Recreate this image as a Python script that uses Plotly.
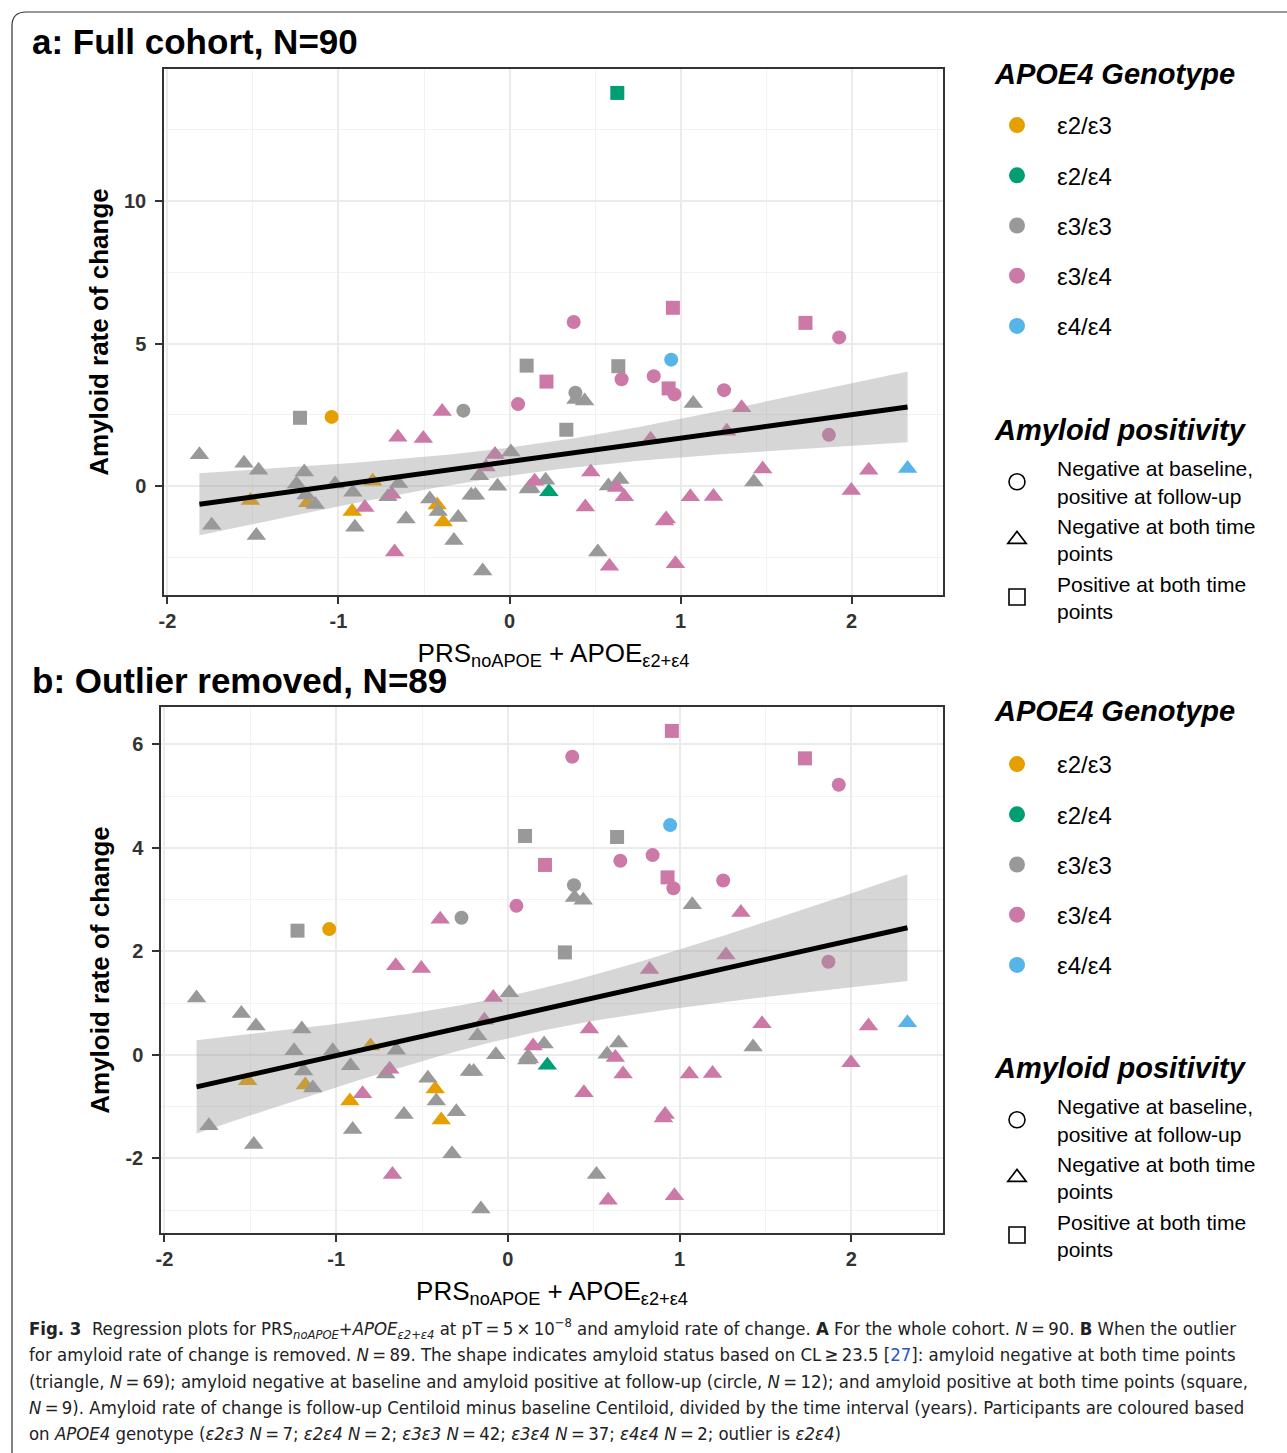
import numpy as np
import plotly.graph_objects as go

W, H = 1287, 1453

# ---------------- data ----------------
# PRS_noAPOE + APOE_e2+e4 score, amyloid rate of change, genotype, amyloid status
# status codes: "conv" = negative at baseline, positive at follow-up (circle)
#               "neg"  = negative at both time points (triangle)
#               "pos"  = positive at both time points (square)
prs = [
    # circles
    -1.04, -0.27, 0.05, 0.385, 0.375, 0.945, 0.655, 0.843, 0.964, 1.254, 1.927, 1.867,
    # squares
    -1.225, 0.10, 0.636, 0.332, 0.216, 0.93, 0.955, 1.73,
    # triangles, e3/e3
    -1.813, -1.552, -1.467, -1.20, -1.245, -1.02, -0.649, -1.19, -0.916, -1.136,
    -0.711, -0.605, -1.741, -0.904, -1.48, 0.388, 0.439, 0.008, -0.176, -0.07,
    -0.224, -0.199, -0.466, -0.417, -0.30, -0.325, -0.157, 0.211, 0.118, 0.11,
    0.125, 0.578, 0.645, 0.516, 1.074, 1.428,
    # triangles, e3/e4
    -0.653, -0.504, -0.394, 0.825, -0.085, -0.137, 0.475, -0.688, -0.846, -0.672,
    0.147, 0.626, 0.671, 0.443, 0.584, 1.357, 1.27, 1.48, 2.10, 1.998,
    1.057, 1.192, 0.916, 0.906, 0.97,
    # triangles, e2/e3
    -0.80, -1.515, -1.18, -0.92, -0.423, -0.388,
    # triangles, e2/e4 and e4/e4
    0.23, 2.327,
]
rate = [
    2.43, 2.65, 2.88, 3.28, 5.76, 4.44, 3.75, 3.86, 3.22, 3.37, 5.22, 1.80,
    2.40, 4.23, 4.21, 1.98, 3.67, 3.43, 6.26, 5.73,
    1.10, 0.80, 0.56, 0.50, 0.08, 0.08, 0.09, -0.31, -0.21, -0.64,
    -0.37, -1.15, -1.37, -1.44, -1.73, 3.04, 2.99, 1.20, 0.37, 0.0,
    -0.32, -0.32, -0.45, -0.89, -1.10, -1.91, -2.98, 0.21, -0.03, -0.10,
    -0.08, 0.01, 0.23, -2.31, 2.90, 0.15,
    1.72, 1.67, 2.62, 1.65, 1.11, 0.67, 0.50, -0.28, -0.75, -2.31,
    0.17, -0.05, -0.37, -0.73, -2.81, 2.75, 1.93, 0.60, 0.56, -0.15,
    -0.37, -0.36, -1.15, -1.22, -2.72,
    0.17, -0.50, -0.58, -0.89, -0.66, -1.26,
    -0.20, 0.62,
]
genotype = (
    ["e2/e3", "e3/e3", "e3/e4", "e3/e3", "e3/e4", "e4/e4", "e3/e4", "e3/e4", "e3/e4",
     "e3/e4", "e3/e4", "e3/e4"]
    + ["e3/e3"] * 4 + ["e3/e4"] * 4
    + ["e3/e3"] * 36 + ["e3/e4"] * 25 + ["e2/e3"] * 6
    + ["e2/e4", "e4/e4"]
)
status = ["conv"] * 12 + ["pos"] * 8 + ["neg"] * 69

# the single outlier (only in the full cohort panel)
outlier_prs = [0.63]
outlier_rate = [13.8]
outlier_genotype = ["e2/e4"]
outlier_status = ["pos"]

geno_levels = ["e2/e3", "e2/e4", "e3/e3", "e3/e4", "e4/e4"]
geno_labels = ["ε2/ε3", "ε2/ε4", "ε3/ε3", "ε3/ε4", "ε4/ε4"]
geno_colors = ["#E69F00", "#009E73", "#999999", "#CC79A7", "#56B4E9"]
status_levels = ["conv", "neg", "pos"]
status_labels = ["Negative at baseline,<br>positive at follow-up",
                 "Negative at both time<br>points",
                 "Positive at both time<br>points"]
status_symbols = ["circle", "triangle-up", "square"]
status_sizes = [14, 17, 14]

x_ticks = [-2, -1, 0, 1, 2]
x_ticktext = ["-2", "-1", "0", "1", "2"]
y_ticks_a = [0, 5, 10]
y_ticktext_a = ["0", "5", "10"]
y_ticks_b = [-2, 0, 2, 4, 6]
y_ticktext_b = ["-2", "0", "2", "4", "6"]

caption_lines = [
    "<b>Fig. 3</b>  Regression plots for PRS<sub><i>noAPOE</i></sub>+<i>APOE</i><sub><i>ε2+ε4</i></sub>"
    " at pT\u2009=\u20095\u2009×\u200910<sup>−8</sup> and amyloid rate of change. <b>A</b> For the whole cohort. "
    "<i>N</i>\u2009=\u200990. <b>B</b> When the outlier",
    "for amyloid rate of change is removed. <i>N</i>\u2009=\u200989. The shape indicates amyloid status "
    "based on CL\u2009≥\u200923.5 [<span style='color:#2a55c8'>27</span>]: amyloid negative at both time points",
    "(triangle, <i>N</i>\u2009=\u200969); amyloid negative at baseline and amyloid positive at follow-up "
    "(circle, <i>N</i>\u2009=\u200912); and amyloid positive at both time points (square,",
    "<i>N</i>\u2009=\u20099). Amyloid rate of change is follow-up Centiloid minus baseline Centiloid, "
    "divided by the time interval (years). Participants are coloured based",
    "on <i>APOE4</i> genotype (<i>ε2ε3 N</i>\u2009=\u20097; <i>ε2ε4 N</i>\u2009=\u20092; "
    "<i>ε3ε3 N</i>\u2009=\u200942; <i>ε3ε4 N</i>\u2009=\u200937; <i>ε4ε4 N</i>\u2009=\u20092; "
    "outlier is <i>ε2ε4</i>)",
]
caption_y = [1328, 1354, 1381, 1407, 1433]

# ---------------- helpers ----------------
def px(xp):
    return xp / W

def py(yp):
    return 1 - yp / H

FONT = "Liberation Sans, Arial, sans-serif"

fig = go.Figure()


def add_panel(xs, ys, gs, ss, xa, ya, legend_geno, legend_shape):
    xs = np.asarray(xs, float)
    ys = np.asarray(ys, float)
    gs = np.asarray(gs)
    ss = np.asarray(ss)
    # points
    for si, s in enumerate(status_levels):
        for gi, g in enumerate(geno_levels):
            m = (gs == g) & (ss == s)
            if not m.any():
                continue
            fig.add_trace(go.Scatter(
                x=xs[m], y=ys[m], mode="markers", xaxis=xa, yaxis=ya,
                marker=dict(symbol=status_symbols[si], size=status_sizes[si],
                            color=geno_colors[gi], line=dict(width=0)),
                showlegend=False, hoverinfo="x+y"))
    # linear regression with 95% CI
    n = len(xs)
    X = np.column_stack([np.ones(n), xs])
    beta, *_ = np.linalg.lstsq(X, ys, rcond=None)
    resid = ys - X @ beta
    s2 = resid @ resid / (n - 2)
    XtXi = np.linalg.inv(X.T @ X)
    xg = np.linspace(xs.min(), xs.max(), 80)
    Xg = np.column_stack([np.ones_like(xg), xg])
    fit = Xg @ beta
    se = np.sqrt(s2 * np.einsum("ij,jk,ik->i", Xg, XtXi, Xg))
    t = 1.988
    lo, hi = fit - t * se, fit + t * se
    fig.add_trace(go.Scatter(
        x=np.concatenate([xg, xg[::-1]]), y=np.concatenate([hi, lo[::-1]]),
        fill="toself", fillcolor="rgba(153,153,153,0.4)", line=dict(width=0),
        mode="lines", xaxis=xa, yaxis=ya, showlegend=False, hoverinfo="skip"))
    fig.add_trace(go.Scatter(
        x=xg, y=fit, mode="lines", line=dict(color="black", width=5),
        xaxis=xa, yaxis=ya, showlegend=False, hoverinfo="skip"))
    # legend entries
    for gi, g in enumerate(geno_levels):
        fig.add_trace(go.Scatter(
            x=[None], y=[None], mode="markers", xaxis=xa, yaxis=ya,
            marker=dict(symbol="circle", size=16, color=geno_colors[gi]),
            name=geno_labels[gi], legend=legend_geno,
            legendgroup=legend_geno + g, showlegend=True))
    for si, s in enumerate(status_levels):
        fig.add_trace(go.Scatter(
            x=[None], y=[None], mode="markers", xaxis=xa, yaxis=ya,
            marker=dict(symbol=status_symbols[si] + "-open", size=16, color="black",
                        line=dict(width=1.6, color="black")),
            name=status_labels[si], legend=legend_shape,
            legendgroup=legend_shape + s, showlegend=True))
    # ranges with 5% expansion
    xr = [xs.min(), xs.max()]
    yr = [min(ys.min(), lo.min()), max(ys.max(), hi.max())]
    dx = (xr[1] - xr[0]) * 0.05
    dy = (yr[1] - yr[0]) * 0.05
    return [xr[0] - dx, xr[1] + dx], [yr[0] - dy, yr[1] + dy]


xr_a, yr_a = add_panel(prs + outlier_prs, rate + outlier_rate,
                       genotype + outlier_genotype, status + outlier_status,
                       "x", "y", "legend", "legend2")
xr_b, yr_b = add_panel(prs, rate, genotype, status, "x2", "y2", "legend3", "legend4")

tickfont = dict(family=FONT, size=20, color="#333333", weight="bold")
xtitle = "PRS<sub>noAPOE</sub> + APOE<sub>ε2+ε4</sub>"


def xaxis(domain, rng, anchor):
    return dict(domain=domain, range=rng, anchor=anchor,
                tickvals=x_ticks, ticktext=x_ticktext, tickfont=tickfont,
                ticks="outside", ticklen=7, tickwidth=1.5, tickcolor="#333333",
                showline=True, linecolor="#333333", linewidth=1.5, mirror=True,
                showgrid=True, gridcolor="#EBEBEB", gridwidth=1.6,
                minor=dict(dtick=0.5, showgrid=True, gridcolor="#F2F2F2", gridwidth=1),
                zeroline=False,
                title=dict(text=xtitle, font=dict(family=FONT, size=26, color="black"),
                           standoff=13))


def yaxis(domain, rng, anchor, tv, tt, minor_dtick):
    return dict(domain=domain, range=rng, anchor=anchor,
                tickvals=tv, ticktext=tt, tickfont=tickfont,
                ticks="outside", ticklen=7, tickwidth=1.5, tickcolor="#333333",
                ticklabelstandoff=5,
                showline=True, linecolor="#333333", linewidth=1.5, mirror=True,
                showgrid=True, gridcolor="#EBEBEB", gridwidth=1.6,
                minor=dict(dtick=minor_dtick, showgrid=True, gridcolor="#F2F2F2", gridwidth=1),
                zeroline=False,
                title=dict(text="<b>Amyloid rate of change</b>",
                           font=dict(family=FONT, size=26, color="black"), standoff=8))


def legend(ytop, gap, fsize):
    return dict(x=px(977), y=py(ytop), xanchor="left", yanchor="top",
                font=dict(family=FONT, size=fsize, color="black"),
                tracegroupgap=gap, itemwidth=70, bgcolor="rgba(0,0,0,0)",
                traceorder="grouped", itemclick=False, itemdoubleclick=False)


title_font = dict(family=FONT, size=29, color="black", weight="bold", style="italic")


def ann(text, x, y, font, xanchor="left"):
    return dict(text=text, x=px(x), y=py(y), xref="paper", yref="paper",
                xanchor=xanchor, yanchor="middle", showarrow=False, align="left", font=font)


annotations = [
    ann("<b>a: Full cohort, N=90</b>", 30, 42, dict(family=FONT, size=35, color="black")),
    ann("<b>b: Outlier removed, N=89</b>", 30, 680, dict(family=FONT, size=35, color="black")),
    ann("APOE4 Genotype", 992, 74, title_font),
    ann("Amyloid positivity", 992, 430, title_font),
    ann("APOE4 Genotype", 992, 711, title_font),
    ann("Amyloid positivity", 992, 1068, title_font),
]
cap_font = dict(family="Liberation Sans Narrow, DejaVu Sans Condensed, Roboto, sans-serif",
                size=18.4, color="#222222")
for line, yy in zip(caption_lines, caption_y):
    annotations.append(ann(line, 27, yy, cap_font))

# frame with rounded top-left corner
r = 14
frame_path = (f"M {px(12)},{py(H)} L {px(12)},{py(12 + r)} "
              f"Q {px(12)},{py(12)} {px(12 + r)},{py(12)} L {px(W)},{py(12)}")

fig.update_layout(
    width=W, height=H, margin=dict(l=0, r=0, t=0, b=0, autoexpand=False),
    paper_bgcolor="white", plot_bgcolor="white",
    font=dict(family=FONT, color="black"),
    xaxis=xaxis([px(164), px(943)], xr_a, "y"),
    yaxis=yaxis([py(595), py(69)], yr_a, "x", y_ticks_a, y_ticktext_a, 2.5),
    xaxis2=xaxis([px(161), px(943)], xr_b, "y2"),
    yaxis2=yaxis([py(1233), py(707)], yr_b, "x2", y_ticks_b, y_ticktext_b, 1),
    legend=legend(103, 16, 24),
    legend2=legend(448, 0, 21),
    legend3=legend(742, 16, 24),
    legend4=legend(1086, 0, 21),
    shapes=[dict(type="path", path=frame_path, xref="paper", yref="paper",
                 line=dict(color="#333333", width=1.2))],
    annotations=annotations,
)

fig.write_html("out.html", config={"displayModeBar": False},
               post_script="document.body.style.margin='0px';")
